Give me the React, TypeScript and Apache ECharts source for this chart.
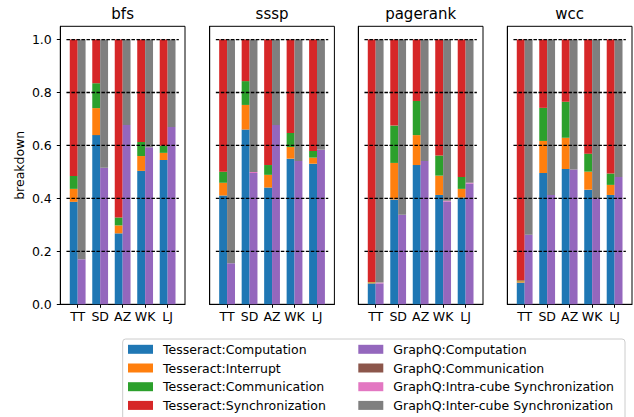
import React, { useEffect, useRef } from 'react';
import * as echarts from 'echarts';

const categories = ['TT', 'SD', 'AZ', 'WK', 'LJ'];
const benchmarks = ['bfs', 'sssp', 'pagerank', 'wcc'];
const yTickValues = [0, 0.2, 0.4, 0.6, 0.8, 1.0];
const gridLevels = [0.2, 0.4, 0.6, 0.8, 1.0];

// rows: bfs, sssp, pagerank, wcc ; columns: TT, SD, AZ, WK, LJ
const tessComputation = [
  [0.387, 0.639, 0.268, 0.504, 0.545],
  [0.411, 0.660, 0.441, 0.550, 0.531],
  [0.079, 0.396, 0.526, 0.413, 0.403],
  [0.082, 0.496, 0.511, 0.433, 0.413],
];
const tessInterrupt = [
  [0.049, 0.102, 0.030, 0.056, 0.027],
  [0.048, 0.093, 0.048, 0.044, 0.023],
  [0.004, 0.138, 0.113, 0.073, 0.033],
  [0.005, 0.121, 0.118, 0.068, 0.038],
];
const tessCommunication = [
  [0.049, 0.094, 0.030, 0.053, 0.027],
  [0.042, 0.090, 0.037, 0.053, 0.025],
  [0.001, 0.141, 0.129, 0.076, 0.045],
  [0.003, 0.125, 0.136, 0.068, 0.043],
];
const tessSynchronization = [
  [0.515, 0.165, 0.672, 0.387, 0.401],
  [0.499, 0.157, 0.474, 0.353, 0.421],
  [0.916, 0.325, 0.232, 0.438, 0.519],
  [0.910, 0.258, 0.235, 0.431, 0.506],
];
const gqComputation = [
  [0.170, 0.516, 0.677, 0.593, 0.670],
  [0.155, 0.496, 0.677, 0.541, 0.584],
  [0.079, 0.338, 0.541, 0.388, 0.456],
  [0.263, 0.413, 0.509, 0.401, 0.481],
];
const gqCommunication = [
  [0, 0, 0, 0, 0],
  [0, 0, 0, 0, 0],
  [0, 0, 0, 0, 0],
  [0, 0, 0, 0, 0],
];
const gqIntraSync = [
  [0, 0, 0, 0, 0],
  [0, 0.004, 0, 0, 0],
  [0.003, 0, 0, 0.003, 0.003],
  [0, 0, 0, 0, 0],
];
const gqInterSync = [
  [0.830, 0.484, 0.323, 0.407, 0.330],
  [0.845, 0.500, 0.323, 0.459, 0.416],
  [0.918, 0.662, 0.459, 0.609, 0.541],
  [0.737, 0.587, 0.491, 0.599, 0.519],
];

const tessSeries = [
  { name: 'Tesseract:Computation', data: tessComputation, color: '#1f77b4' },
  { name: 'Tesseract:Interrupt', data: tessInterrupt, color: '#ff7f0e' },
  { name: 'Tesseract:Communication', data: tessCommunication, color: '#2ca02c' },
  { name: 'Tesseract:Synchronization', data: tessSynchronization, color: '#d62728' },
];
const gqSeries = [
  { name: 'GraphQ:Computation', data: gqComputation, color: '#9467bd' },
  { name: 'GraphQ:Communication', data: gqCommunication, color: '#8c564b' },
  { name: 'GraphQ:Intra-cube Synchronization', data: gqIntraSync, color: '#e377c2' },
  { name: 'GraphQ:Inter-cube Synchronization', data: gqInterSync, color: '#7f7f7f' },
];

const FONT = 'DejaVu Sans';
const gridLefts = [60.3, 209.7, 358.3, 507.3];
const GRID_W = 124.7;
const GRID_TOP = 26.3;
const GRID_H = 278;

export default function App() {
  const ref = useRef<HTMLDivElement>(null);
  useEffect(() => {
    if (!ref.current) return;
    const chart = echarts.init(ref.current, null, { renderer: 'svg' });

    const grid = gridLefts.map((l) => ({
      left: l,
      top: GRID_TOP,
      width: GRID_W,
      height: GRID_H,
      show: true,
      borderColor: '#000',
      borderWidth: 1,
      backgroundColor: 'transparent',
    }));

    const xAxis = benchmarks.map((_, g) => ({
      type: 'value',
      gridIndex: g,
      min: -0.773,
      max: 4.773,
      splitLine: { show: false },
      axisLine: { show: true, onZero: false, lineStyle: { color: '#000', width: 1 } },
      axisTick: {
        show: true,
        length: 3.5,
        customValues: [0, 1, 2, 3, 4],
        lineStyle: { color: '#000', width: 1 },
      },
      axisLabel: {
        show: true,
        customValues: [0, 1, 2, 3, 4],
        formatter: (v: number) => categories[Math.round(v)] ?? '',
        fontSize: 12.5,
        fontFamily: FONT,
        color: '#000',
        margin: 6,
      },
    }));

    const yAxis = benchmarks.map((_, g) => ({
      type: 'value',
      gridIndex: g,
      min: 0,
      max: 1.05,
      splitLine: { show: false },
      axisLine: { show: true, onZero: false, lineStyle: { color: '#000', width: 1 } },
      axisTick: {
        show: g === 0,
        length: 3.5,
        customValues: yTickValues,
        lineStyle: { color: '#000', width: 1 },
      },
      axisLabel: {
        show: g === 0,
        customValues: yTickValues,
        formatter: (v: number) => v.toFixed(1),
        fontSize: 12.5,
        fontFamily: FONT,
        color: '#000',
        margin: 8.5,
      },
    }));

    const series: any[] = [];
    const addBar = (s: any, g: number, stack: string) => {
      series.push({
        type: 'bar',
        name: s.name,
        xAxisIndex: g,
        yAxisIndex: g,
        stack: stack + g,
        barWidth: 7.9,
        barGap: '0%',
        itemStyle: { color: s.color },
        dimensions: ['value', 'pos'],
        encode: { x: 1, y: 0 },
        data: s.data[g].map((v: number, i: number) => [v, i]),
      });
    };
    benchmarks.forEach((_, g) => {
      tessSeries.forEach((s) => addBar(s, g, 'tess'));
      gqSeries.forEach((s) => addBar(s, g, 'gq'));
      gridLevels.forEach((lv) => {
        series.push({
          type: 'line',
          name: 'grid' + g + '_' + lv,
          xAxisIndex: g,
          yAxisIndex: g,
          symbol: 'none',
          silent: true,
          z: 5,
          lineStyle: { color: '#000', width: 1.3, type: [3.5, 1.5] },
          data: [
            [-0.5, lv],
            [4.5, lv],
          ],
        });
      });
    });

    const legendCommon = {
      orient: 'vertical',
      top: 342.3,
      itemWidth: 25,
      itemHeight: 9,
      itemGap: 4.7,
      icon: 'rect',
      padding: 0,
      z: 5,
      textStyle: {
        fontSize: 12.5,
        fontFamily: FONT,
        color: '#000',
        lineHeight: 14,
        padding: [0, 0, 0, 5],
      },
    };

    const graphicEls: any[] = benchmarks.map((b, g) => ({
      type: 'text',
      x: gridLefts[g] + GRID_W / 2,
      y: 14.4,
      style: {
        text: b,
        fontSize: 15,
        fontFamily: FONT,
        fill: '#000',
        align: 'center',
        verticalAlign: 'middle',
      },
    }));
    graphicEls.push({
      type: 'text',
      x: 19,
      y: GRID_TOP + GRID_H / 2,
      rotation: Math.PI / 2,
      style: {
        text: 'breakdown',
        fontSize: 12.5,
        fontFamily: FONT,
        fill: '#000',
        align: 'center',
        verticalAlign: 'middle',
      },
    });
    graphicEls.push({
      type: 'rect',
      z: 1,
      shape: { x: 122.7, y: 339, width: 502.3, height: 95, r: 3 },
      style: { fill: 'rgba(255,255,255,0.8)', stroke: '#cccccc', lineWidth: 1 },
    });

    chart.setOption({
      animation: false,
      backgroundColor: '#fff',
      grid,
      xAxis,
      yAxis,
      series,
      legend: [
        { ...legendCommon, left: 128, data: tessSeries.map((s) => s.name) },
        { ...legendCommon, left: 358.3, data: gqSeries.map((s) => s.name) },
      ],
      graphic: { elements: graphicEls },
    });

    return () => chart.dispose();
  }, []);

  return (
    <div
      ref={ref}
      style={{ position: 'absolute', left: 0, top: 0, width: 634, height: 417 }}
    />
  );
}
